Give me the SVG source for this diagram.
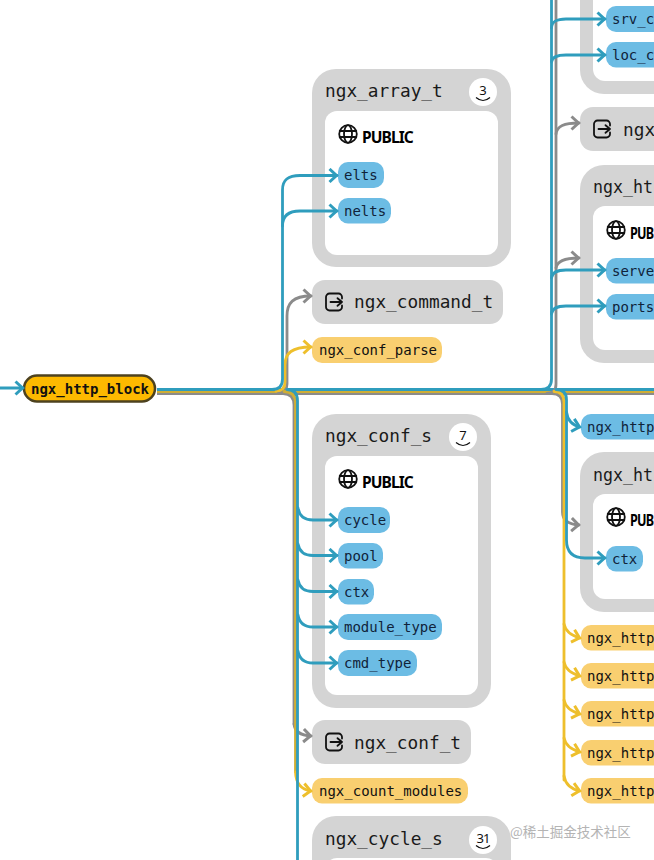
<svg xmlns="http://www.w3.org/2000/svg" width="654" height="860" viewBox="0 0 654 860">
<style>
.outer{fill:#d4d4d4}
.inner{fill:#fff}
.title{font:17.8px "DejaVu Sans Mono",monospace;fill:#1a1a1a}
.lab{font:14px "DejaVu Sans Mono",monospace;fill:#10233a}
.ylab{font:14px "DejaVu Sans Mono",monospace;fill:#111}
.pub{font:bold 15.5px "Noto Sans",sans-serif;fill:#000;letter-spacing:-.9px}
.blue{fill:#6cbce4}
.yel{fill:#f9cf70}
.badge{fill:#fff}
.num{font:13px "Noto Sans",sans-serif;fill:#111;text-anchor:middle}
.c{fill:none;stroke-width:2.8;stroke-linecap:round}
.cb{stroke:#2f9dbd;marker-end:url(#mb)}
.cy{stroke:#eebf2c;marker-end:url(#my)}
.cg{stroke:#8b8b8b;marker-end:url(#mg)}
.ic{fill:none;stroke:#111;stroke-width:1.8;stroke-linecap:round;stroke-linejoin:round}
.chev{fill:none;stroke:#111;stroke-width:1.2}
</style>
<defs>
<marker id="mb" markerUnits="userSpaceOnUse" markerWidth="16" markerHeight="16" refX="11" refY="8" orient="auto"><path d="M3.500 1.500L10.500 8L3.500 14.500" fill="none" stroke="#2f9dbd" stroke-width="3"/></marker>
<marker id="my" markerUnits="userSpaceOnUse" markerWidth="16" markerHeight="16" refX="11" refY="8" orient="auto"><path d="M3.500 1.500L10.500 8L3.500 14.500" fill="none" stroke="#eebf2c" stroke-width="3"/></marker>
<marker id="mg" markerUnits="userSpaceOnUse" markerWidth="16" markerHeight="16" refX="11" refY="8" orient="auto"><path d="M3.500 1.500L10.500 8L3.500 14.500" fill="none" stroke="#8b8b8b" stroke-width="3"/></marker>
<g id="globe" class="ic"><circle cx="0" cy="0" r="8.800"/><ellipse cx="0" cy="0" rx="4" ry="8.800"/><path d="M-8.300 -3H8.300M-8.300 3H8.300"/></g>
<g id="enter" class="ic"><path d="M-1 -8.500H4.500A3.500 3.500 0 0 1 8 -5V-3.500M8 3.500V5A3.500 3.500 0 0 1 4.500 8.500H-4.500A3.500 3.500 0 0 1 -8 5V-5A3.500 3.500 0 0 1 -4.500 -8.500H-1M-3.500 0H8M3.500 -3.800L8 0L3.500 3.800"/></g>
</defs>

<g id="ngx_http_block">
<rect x="24" y="375.500" width="131" height="26" rx="13" fill="#fdb900" stroke="#4d421f" stroke-width="2.500"/>
<text x="31" y="393.500" font-family="DejaVu Sans Mono,monospace" font-size="14" font-weight="700" fill="#111">ngx_http_block</text>
</g>

<g id="ngx_array_t">
<rect class="outer" x="312" y="69" width="199" height="198" rx="24"/>
<text class="title" x="325" y="97">ngx_array_t</text>
<circle class="badge" cx="483" cy="92" r="14"/>
<text class="num" x="483" y="95">3</text><path class="chev" d="M476 97.500Q483 103.500 490 97.500"/>
<rect class="inner" x="325" y="111" width="173" height="144" rx="12"/>
<use href="#globe" x="348" y="134"/><text class="pub" x="362" y="143">PUBLIC</text>
</g>
<g id="elts"><rect class="blue" x="338" y="162" width="46" height="26" rx="10"/><text class="lab" x="344" y="180">elts</text></g>
<g id="nelts"><rect class="blue" x="338" y="198" width="53" height="25.500" rx="10"/><text class="lab" x="344" y="216">nelts</text></g>

<g id="ngx_command_t">
<rect class="outer" x="312" y="280" width="191" height="44" rx="13"/>
<use href="#enter" x="334" y="302"/><text class="title" x="354" y="308">ngx_command_t</text>
</g>
<g id="ngx_conf_parse"><rect class="yel" x="312" y="337" width="130" height="26" rx="10"/><text class="ylab" x="319" y="355">ngx_conf_parse</text></g>

<g id="ngx_conf_s">
<rect class="outer" x="312" y="414" width="179" height="294" rx="24"/>
<text class="title" x="325" y="442">ngx_conf_s</text>
<circle class="badge" cx="463" cy="437" r="14"/>
<text class="num" x="463" y="440">7</text><path class="chev" d="M456 442.500Q463 448.500 470 442.500"/>
<rect class="inner" x="325" y="456" width="153" height="239" rx="12"/>
<use href="#globe" x="348" y="479"/><text class="pub" x="362" y="488">PUBLIC</text>
</g>
<g id="cycle"><rect class="blue" x="338" y="507" width="52" height="26" rx="10"/><text class="lab" x="344" y="525">cycle</text></g>
<g id="pool"><rect class="blue" x="338" y="543" width="45" height="25.500" rx="10"/><text class="lab" x="344" y="561">pool</text></g>
<g id="ctx"><rect class="blue" x="338" y="579" width="36" height="25.500" rx="10"/><text class="lab" x="344" y="597">ctx</text></g>
<g id="module_type"><rect class="blue" x="338" y="614" width="104" height="26" rx="10"/><text class="lab" x="344" y="632">module_type</text></g>
<g id="cmd_type"><rect class="blue" x="338" y="650" width="79" height="26" rx="10"/><text class="lab" x="344" y="668">cmd_type</text></g>

<g id="ngx_conf_t">
<rect class="outer" x="312" y="720" width="159" height="44" rx="13"/>
<use href="#enter" x="334" y="742"/><text class="title" x="354" y="749">ngx_conf_t</text>
</g>
<g id="ngx_count_modules"><rect class="yel" x="312" y="778" width="156" height="25.500" rx="10"/><text class="ylab" x="319" y="796">ngx_count_modules</text></g>

<g id="ngx_cycle_s">
<rect class="outer" x="312" y="816" width="199" height="80" rx="24"/>
<text class="title" x="325" y="845">ngx_cycle_s</text>
<circle class="badge" cx="483" cy="840" r="14"/>
<text class="num" x="483" y="843" letter-spacing="-1">31</text><path class="chev" d="M476 845.500Q483 851.500 490 845.500"/>
<rect class="inner" x="325" y="858" width="173" height="40" rx="12"/>
</g>

<g id="block_top">
<rect class="outer" x="580" y="-60" width="100" height="154" rx="24"/>
<rect class="inner" x="593" y="-60" width="100" height="141" rx="12"/>
</g>
<g id="srv_c"><rect class="blue" x="606" y="6" width="70" height="26" rx="10"/><text class="lab" x="612" y="24">srv_c</text></g>
<g id="loc_c"><rect class="blue" x="606" y="42" width="70" height="25.500" rx="10"/><text class="lab" x="612" y="60">loc_c</text></g>

<g id="ngx_ref">
<rect class="outer" x="580" y="107" width="100" height="44" rx="13"/>
<use href="#enter" x="602" y="129"/><text class="title" x="623" y="136">ngx</text>
</g>

<g id="ngx_ht_top">
<rect class="outer" x="580" y="165" width="100" height="198" rx="24"/>
<text class="title" x="593" y="193" textLength="60" lengthAdjust="spacingAndGlyphs">ngx_ht</text>
<rect class="inner" x="593" y="206" width="100" height="144" rx="12"/>
<use href="#globe" x="616" y="230"/><text class="pub" x="630" y="239" textLength="23.500" lengthAdjust="spacingAndGlyphs">PUB</text>
</g>
<g id="serve"><rect class="blue" x="606" y="258" width="70" height="25.500" rx="10"/><text class="lab" x="612" y="276">serve</text></g>
<g id="ports"><rect class="blue" x="606" y="294" width="70" height="25.500" rx="10"/><text class="lab" x="612" y="312">ports</text></g>

<g id="ngx_http_blue"><rect class="blue" x="581" y="414" width="100" height="25.500" rx="10"/><text class="lab" x="587" y="432">ngx_http</text></g>

<g id="ngx_ht_bottom">
<rect class="outer" x="580" y="452" width="100" height="160" rx="24"/>
<text class="title" x="593" y="481" textLength="60" lengthAdjust="spacingAndGlyphs">ngx_ht</text>
<rect class="inner" x="593" y="494" width="100" height="105" rx="12"/>
<use href="#globe" x="616" y="517"/><text class="pub" x="630" y="526" textLength="23.500" lengthAdjust="spacingAndGlyphs">PUB</text>
</g>
<g id="ctx2"><rect class="blue" x="606" y="546" width="37" height="25.500" rx="10"/><text class="lab" x="612" y="564">ctx</text></g>

<g id="ngx_http_y1"><rect class="yel" x="581" y="625" width="100" height="25.500" rx="10"/><text class="ylab" x="587" y="643">ngx_http</text></g>
<g id="ngx_http_y2"><rect class="yel" x="581" y="663" width="100" height="25.500" rx="10"/><text class="ylab" x="587" y="681">ngx_http</text></g>
<g id="ngx_http_y3"><rect class="yel" x="581" y="701" width="100" height="25.500" rx="10"/><text class="ylab" x="587" y="719">ngx_http</text></g>
<g id="ngx_http_y4"><rect class="yel" x="581" y="740" width="100" height="25.500" rx="10"/><text class="ylab" x="587" y="758">ngx_http</text></g>
<g id="ngx_http_y5"><rect class="yel" x="581" y="778" width="100" height="25.500" rx="10"/><text class="ylab" x="587" y="796">ngx_http</text></g>

<g id="connectors">
<path class="c cb" d="M0 388H23"/>
<g fill="none" stroke-width="2.800">
<path stroke="#8b8b8b" d="M157 393.500H654"/>
<path stroke="#cfae35" d="M157 391.500H654"/>
<path stroke="#2f9dbd" d="M157 389.500H654"/>
</g>
<!-- up left -->
<path class="c cg" d="M278 393Q287 393 287 384V316C287 303 293 296 311 296"/>
<path class="c cy" d="M276 391Q285 391 285 382V365C285 353 292 347 311 347"/>
<path class="c cb" d="M272 389.500Q282.500 389.500 282.500 379V190C282.500 180 288 175.500 300 175.500H337"/>
<path class="c cb" d="M282.500 226C282.500 216 288 211 300 211H337"/>
<!-- down left -->
<path class="c" stroke="#8b8b8b" d="M283 393.500Q294 393.500 294 405V724"/>
<path class="c cg" d="M294 724Q295 735 311 736"/>
<path class="c" stroke="#cfae35" d="M284 391.500Q295.500 391.500 295.500 403V772"/>
<path class="c cy" d="M295.500 772Q296 789 311 791"/>
<path class="c" stroke="#2f9dbd" d="M287 389.500Q297.500 389.500 297.500 401V860"/>
<path class="c cb" d="M298 508Q300 520 313 520H337"/>
<path class="c cb" d="M298 544Q300 555.500 313 555.500H337"/>
<path class="c cb" d="M298 580Q300 591.500 313 591.500H337"/>
<path class="c cb" d="M298 615Q300 627 313 627H337"/>
<path class="c cb" d="M298 651Q300 663 313 663H337"/>
<!-- up right -->
<path class="c" stroke="#8b8b8b" d="M547 393.500Q556 393.500 556 384V0"/>
<path class="c" stroke="#2f9dbd" d="M541 389.500Q551.500 389.500 551.500 379V0"/>
<path class="c cb" d="M551.500 28C552 21 557 19 566 19H605"/>
<path class="c cb" d="M551.500 62C552 57 557 55 566 55H605"/>
<path class="c cg" d="M556 134C557 126 564 123 579 123"/>
<path class="c cg" d="M556 268C557 261 564 258 579 258"/>
<path class="c cb" d="M551.500 278C552 272 557 270 566 270H605"/>
<path class="c cb" d="M551.500 314C552 308 557 306 566 306H605"/>
<!-- down right -->
<path class="c" stroke="#8b8b8b" d="M552 393.500Q562.500 393.500 562.500 404V512Q562.500 524 579 525" marker-end="url(#mg)"/>
<path class="c" stroke="#eebf2c" d="M554 391.500Q564 391.500 564 402V780"/>
<path class="c" stroke="#2f9dbd" d="M556 389.500Q566.500 389.500 566.500 400V540Q566.500 558 585 558H605" marker-end="url(#mb)"/>
<path class="c cb" d="M566.500 412Q568 424 580 427"/>
<path class="c cy" d="M564 624Q566 634 580 638"/>
<path class="c cy" d="M564 662Q566 672 580 676"/>
<path class="c cy" d="M564 700Q566 710 580 714"/>
<path class="c cy" d="M564 738Q566 748 580 752"/>
<path class="c cy" d="M564 776Q566 788 580 791"/>
</g>

<text x="510" y="837" font-family="Noto Sans CJK SC,sans-serif" font-size="13.500" fill="#b4b4b4">@稀土掘金技术社区</text>
</svg>
